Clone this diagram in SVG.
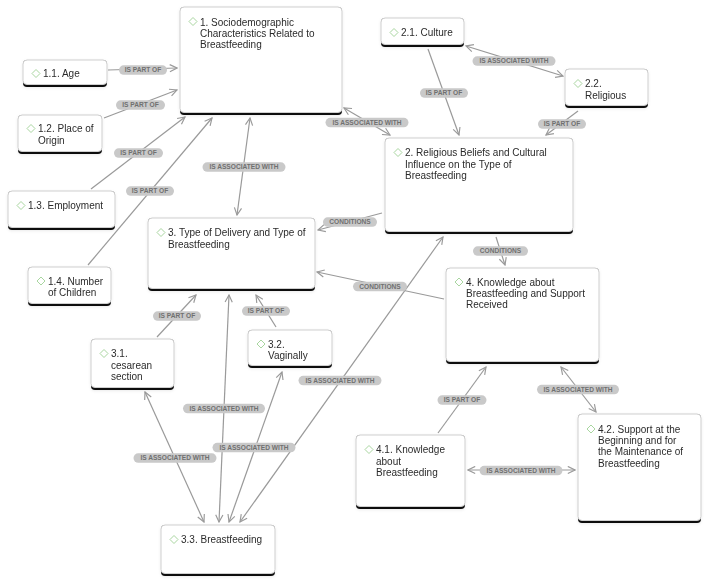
<svg xmlns="http://www.w3.org/2000/svg" width="709" height="585" viewBox="0 0 709 585">
<style>
.bg{fill:#ffffff}
.card{fill:#ffffff;stroke:#cfcfcf;stroke-width:1}
.bar{fill:#111111}
.t{font-family:"Liberation Sans",Arial,sans-serif;font-size:10px;fill:#2b2b2b}
.dia{fill:none;stroke:#a9d6a0;stroke-width:1}
.e{fill:none;stroke:#9a9a9a;stroke-width:1.2}
.pill{fill:#c9c9c9}
.lt{font-family:"Liberation Sans",Arial,sans-serif;font-size:6.6px;font-weight:bold;fill:#707070;text-anchor:middle}
</style>
<defs>
<marker id="ah" viewBox="0 0 10 10" refX="9" refY="5" markerWidth="9" markerHeight="9" markerUnits="userSpaceOnUse" orient="auto-start-reverse">
<path d="M1,1 L9,5 L1,9" fill="none" stroke="#9a9a9a" stroke-width="1.3"/>
</marker>
<filter id="sh" x="-10%" y="-10%" width="120%" height="130%">
<feDropShadow dx="0" dy="1" stdDeviation="1.5" flood-color="#000" flood-opacity="0.08"/>
</filter>
<path id="dm" d="M0,-4 L4,0 L0,4 L-4,0 Z"/>
</defs>
<rect class="bg" x="0" y="0" width="709" height="585"/>

<g id="connectors">
<path class="e" d="M108,70 L177,68" marker-end="url(#ah)"/>
<path class="e" d="M104,118 L177,90" marker-end="url(#ah)"/>
<path class="e" d="M91,189 L185,117" marker-end="url(#ah)"/>
<path class="e" d="M88,265 L212,118" marker-end="url(#ah)"/>
<path class="e" d="M250,118 L237,215" marker-start="url(#ah)" marker-end="url(#ah)"/>
<path class="e" d="M344,108 L390,135" marker-start="url(#ah)" marker-end="url(#ah)"/>
<path class="e" d="M428,49 L459,135" marker-end="url(#ah)"/>
<path class="e" d="M466,46 L563,76" marker-start="url(#ah)" marker-end="url(#ah)"/>
<path class="e" d="M578,111 L546,135" marker-end="url(#ah)"/>
<path class="e" d="M382,213 L318,230" marker-end="url(#ah)"/>
<path class="e" d="M496,237 L505,265" marker-end="url(#ah)"/>
<path class="e" d="M444,299 L317,272" marker-end="url(#ah)"/>
<path class="e" d="M240,522 L443,237" marker-start="url(#ah)" marker-end="url(#ah)"/>
<path class="e" d="M145,392 L204,522" marker-start="url(#ah)" marker-end="url(#ah)"/>
<path class="e" d="M229,295 L219,522" marker-start="url(#ah)" marker-end="url(#ah)"/>
<path class="e" d="M282,372 L229,522" marker-start="url(#ah)" marker-end="url(#ah)"/>
<path class="e" d="M157,337 L196,295" marker-end="url(#ah)"/>
<path class="e" d="M276,327 L256,295" marker-end="url(#ah)"/>
<path class="e" d="M438,433 L486,367" marker-end="url(#ah)"/>
<path class="e" d="M561,367 L596,412" marker-start="url(#ah)" marker-end="url(#ah)"/>
<path class="e" d="M468,470 L575,470" marker-start="url(#ah)" marker-end="url(#ah)"/>

<rect class="pill" x="119" y="65.3" width="48" height="9.5" rx="4.75"/><text class="lt" x="143" y="72.4">IS PART OF</text>
<rect class="pill" x="116" y="100.3" width="49" height="9.5" rx="4.75"/><text class="lt" x="140.5" y="107.4">IS PART OF</text>
<rect class="pill" x="114" y="148.3" width="49" height="9.5" rx="4.75"/><text class="lt" x="138.5" y="155.4">IS PART OF</text>
<rect class="pill" x="126" y="186.3" width="48" height="9.5" rx="4.75"/><text class="lt" x="150" y="193.4">IS PART OF</text>
<rect class="pill" x="202.5" y="162.3" width="83" height="9.5" rx="4.75"/><text class="lt" x="244" y="169.4">IS ASSOCIATED WITH</text>
<rect class="pill" x="325.5" y="117.8" width="83" height="9.5" rx="4.75"/><text class="lt" x="367" y="124.9">IS ASSOCIATED WITH</text>
<rect class="pill" x="420" y="88.3" width="48" height="9.5" rx="4.75"/><text class="lt" x="444" y="95.4">IS PART OF</text>
<rect class="pill" x="472.5" y="56.3" width="83" height="9.5" rx="4.75"/><text class="lt" x="514" y="63.4">IS ASSOCIATED WITH</text>
<rect class="pill" x="538" y="119.3" width="48" height="9.5" rx="4.75"/><text class="lt" x="562" y="126.4">IS PART OF</text>
<rect class="pill" x="323" y="217.3" width="54" height="9.5" rx="4.75"/><text class="lt" x="350" y="224.4">CONDITIONS</text>
<rect class="pill" x="473" y="246.3" width="55" height="9.5" rx="4.75"/><text class="lt" x="500.5" y="253.4">CONDITIONS</text>
<rect class="pill" x="353" y="281.8" width="54" height="9.5" rx="4.75"/><text class="lt" x="380" y="288.9">CONDITIONS</text>
<rect class="pill" x="298.5" y="375.8" width="83" height="9.5" rx="4.75"/><text class="lt" x="340" y="382.9">IS ASSOCIATED WITH</text>
<rect class="pill" x="133.5" y="453.3" width="83" height="9.5" rx="4.75"/><text class="lt" x="175" y="460.4">IS ASSOCIATED WITH</text>
<rect class="pill" x="183" y="403.8" width="82" height="9.5" rx="4.75"/><text class="lt" x="224" y="410.9">IS ASSOCIATED WITH</text>
<rect class="pill" x="212.5" y="442.8" width="83" height="9.5" rx="4.75"/><text class="lt" x="254" y="449.9">IS ASSOCIATED WITH</text>
<rect class="pill" x="153" y="311.3" width="48" height="9.5" rx="4.75"/><text class="lt" x="177" y="318.4">IS PART OF</text>
<rect class="pill" x="242" y="306.3" width="48" height="9.5" rx="4.75"/><text class="lt" x="266" y="313.4">IS PART OF</text>
<rect class="pill" x="437.5" y="395.3" width="49" height="9.5" rx="4.75"/><text class="lt" x="462" y="402.4">IS PART OF</text>
<rect class="pill" x="537" y="384.8" width="82" height="9.5" rx="4.75"/><text class="lt" x="578" y="391.9">IS ASSOCIATED WITH</text>
<rect class="pill" x="479.5" y="465.8" width="83" height="9.5" rx="4.75"/><text class="lt" x="521" y="472.9">IS ASSOCIATED WITH</text>
</g>

<g id="n1" filter="url(#sh)">
<rect class="bar" x="180" y="7" width="162" height="108" rx="4"/>
<rect class="card" x="180" y="7" width="162" height="105.5" rx="4"/>
<use href="#dm" class="dia" x="193" y="21.5"/>
<text class="t" x="200" y="25.5">1. Sociodemographic</text>
<text class="t" x="200" y="36.8">Characteristics Related to</text>
<text class="t" x="200" y="48.1">Breastfeeding</text>
</g>
<g id="n1_1" filter="url(#sh)">
<rect class="bar" x="23" y="60" width="84" height="27" rx="4"/>
<rect class="card" x="23" y="60" width="84" height="24.5" rx="4"/>
<use href="#dm" class="dia" x="36" y="73.5"/>
<text class="t" x="43" y="77.3">1.1. Age</text>
</g>
<g id="n1_2" filter="url(#sh)">
<rect class="bar" x="18" y="115" width="84" height="39" rx="4"/>
<rect class="card" x="18" y="115" width="84" height="36.5" rx="4"/>
<use href="#dm" class="dia" x="31" y="128.5"/>
<text class="t" x="38" y="132.3">1.2. Place of</text>
<text class="t" x="38" y="143.6">Origin</text>
</g>
<g id="n1_3" filter="url(#sh)">
<rect class="bar" x="8" y="191" width="107" height="39" rx="4"/>
<rect class="card" x="8" y="191" width="107" height="36.5" rx="4"/>
<use href="#dm" class="dia" x="21" y="205.5"/>
<text class="t" x="28" y="209.3">1.3. Employment</text>
</g>
<g id="n1_4" filter="url(#sh)">
<rect class="bar" x="28" y="267" width="83" height="39" rx="4"/>
<rect class="card" x="28" y="267" width="83" height="36.5" rx="4"/>
<use href="#dm" class="dia" x="41" y="281"/>
<text class="t" x="48" y="284.8">1.4. Number</text>
<text class="t" x="48" y="296.1">of Children</text>
</g>
<g id="n2_1" filter="url(#sh)">
<rect class="bar" x="381" y="18" width="83" height="29" rx="4"/>
<rect class="card" x="381" y="18" width="83" height="26.5" rx="4"/>
<use href="#dm" class="dia" x="394" y="32.5"/>
<text class="t" x="401" y="36.3">2.1. Culture</text>
</g>
<g id="n2_2" filter="url(#sh)">
<rect class="bar" x="565" y="69" width="83" height="39" rx="4"/>
<rect class="card" x="565" y="69" width="83" height="36.5" rx="4"/>
<use href="#dm" class="dia" x="578" y="83.5"/>
<text class="t" x="585" y="87.3">2.2.</text>
<text class="t" x="585" y="98.6">Religious</text>
</g>
<g id="n2" filter="url(#sh)">
<rect class="bar" x="385" y="138" width="188" height="96" rx="4"/>
<rect class="card" x="385" y="138" width="188" height="93.5" rx="4"/>
<use href="#dm" class="dia" x="398" y="152.5"/>
<text class="t" x="405" y="156.3">2. Religious Beliefs and Cultural</text>
<text class="t" x="405" y="167.6">Influence on the Type of</text>
<text class="t" x="405" y="178.9">Breastfeeding</text>
</g>
<g id="n3" filter="url(#sh)">
<rect class="bar" x="148" y="218" width="167" height="73" rx="4"/>
<rect class="card" x="148" y="218" width="167" height="70.5" rx="4"/>
<use href="#dm" class="dia" x="161" y="232.5"/>
<text class="t" x="168" y="236.3">3. Type of Delivery and Type of</text>
<text class="t" x="168" y="247.6">Breastfeeding</text>
</g>
<g id="n3_1" filter="url(#sh)">
<rect class="bar" x="91" y="339" width="83" height="51" rx="4"/>
<rect class="card" x="91" y="339" width="83" height="48.5" rx="4"/>
<use href="#dm" class="dia" x="104" y="353.5"/>
<text class="t" x="111" y="357.3">3.1.</text>
<text class="t" x="111" y="368.6">cesarean</text>
<text class="t" x="111" y="379.9">section</text>
</g>
<g id="n3_2" filter="url(#sh)">
<rect class="bar" x="248" y="330" width="84" height="38" rx="4"/>
<rect class="card" x="248" y="330" width="84" height="35.5" rx="4"/>
<use href="#dm" class="dia" x="261" y="344"/>
<text class="t" x="268" y="347.8">3.2.</text>
<text class="t" x="268" y="359.1">Vaginally</text>
</g>
<g id="n3_3" filter="url(#sh)">
<rect class="bar" x="161" y="525" width="114" height="51" rx="4"/>
<rect class="card" x="161" y="525" width="114" height="48.5" rx="4"/>
<use href="#dm" class="dia" x="174" y="539.5"/>
<text class="t" x="181" y="543.3">3.3. Breastfeeding</text>
</g>
<g id="n4" filter="url(#sh)">
<rect class="bar" x="446" y="268" width="153" height="96" rx="4"/>
<rect class="card" x="446" y="268" width="153" height="93.5" rx="4"/>
<use href="#dm" class="dia" x="459" y="282"/>
<text class="t" x="466" y="285.8">4. Knowledge about</text>
<text class="t" x="466" y="297.1">Breastfeeding and Support</text>
<text class="t" x="466" y="308.4">Received</text>
</g>
<g id="n4_1" filter="url(#sh)">
<rect class="bar" x="356" y="435" width="109" height="74" rx="4"/>
<rect class="card" x="356" y="435" width="109" height="71.5" rx="4"/>
<use href="#dm" class="dia" x="369" y="449.5"/>
<text class="t" x="376" y="453.3">4.1. Knowledge</text>
<text class="t" x="376" y="464.6">about</text>
<text class="t" x="376" y="475.9">Breastfeeding</text>
</g>
<g id="n4_2" filter="url(#sh)">
<rect class="bar" x="578" y="414" width="123" height="109" rx="4"/>
<rect class="card" x="578" y="414" width="123" height="106.5" rx="4"/>
<use href="#dm" class="dia" x="591" y="429"/>
<text class="t" x="598" y="432.8">4.2. Support at the</text>
<text class="t" x="598" y="444.1">Beginning and for</text>
<text class="t" x="598" y="455.4">the Maintenance of</text>
<text class="t" x="598" y="466.7">Breastfeeding</text>
</g>
</svg>
